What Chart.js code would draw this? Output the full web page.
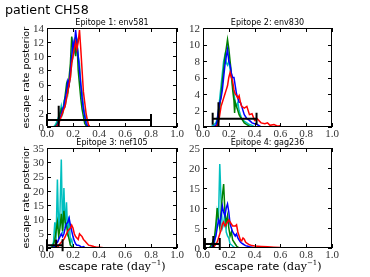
<!DOCTYPE html>
<html lang="en">
<head>
<meta charset="UTF-8">
<title>patient CH58</title>
<script src="https://cdn.jsdelivr.net/npm/chart.js"></script>
<style>
  body { margin: 0; width: 370px; height: 277px; background: #fff; position: relative; overflow: hidden; font-family: "DejaVu Sans", sans-serif; }
  canvas { position: absolute; left: 0; top: 0; }
  .lbl { position: absolute; white-space: nowrap; line-height: 1; color: #000; }
  .ttl { font-size: 8px; text-align: center; }
  .ylab { font-size: 9.5px; width: 120px; text-align: center; transform: rotate(-90deg); }
  .xlab { font-size: 11px; width: 130px; text-align: center; }
  .xlab .m { font-family: "DejaVu Serif", serif; }
  .xlab sup { font-size: 7px; vertical-align: 0; position: relative; top: -5px; }
</style>
</head>
<body>
<canvas id="c1" width="370" height="277"></canvas>
<canvas id="c2" width="370" height="277"></canvas>
<canvas id="c3" width="370" height="277"></canvas>
<canvas id="c4" width="370" height="277"></canvas>

<div class="lbl" style="left:5px; top:4px; font-size:12.7px;">patient CH58</div>
<div class="lbl ttl" style="left:47px; top:19px; width:130px;">Epitope 1: env581</div>
<div class="lbl ttl" style="left:203px; top:19px; width:129px;">Epitope 2: env830</div>
<div class="lbl ttl" style="left:47px; top:139px; width:130px;">Epitope 3: nef105</div>
<div class="lbl ttl" style="left:203px; top:139px; width:129px;">Epitope 4: gag236</div>
<div class="lbl ylab" style="left:-34px; top:73px;">escape rate posterior</div>
<div class="lbl ylab" style="left:-34px; top:193px;">escape rate posterior</div>
<div class="lbl xlab" style="left:47px; top:261px;">escape rate <span class="m">(day<sup>&minus;1</sup>)</span></div>
<div class="lbl xlab" style="left:203px; top:261px;">escape rate <span class="m">(day<sup>&minus;1</sup>)</span></div>

<script>
// posterior curves (escape rate per day -> density)
const xs1 = [0.05,0.06,0.07,0.08,0.09,0.10,0.11,0.12,0.13,0.14,0.15,0.16,0.17,0.18,0.19,0.20,0.21,0.22,0.23,0.24,0.25,0.26,0.27,0.28,0.29,0.30,0.31,0.32,0.33,0.34];
const red1   = [0,0,0,0.2,0.5,1,1.5,2,2.5,3,4,5,6,7,9,10,11,12,11,12,13.7,11,8,5,3.5,2,1,0.3,0,0];
const blue1  = [0,0,0.1,0.3,0.8,1.2,1.8,2.5,3,4,5,6.5,6,8,10,12,11,13.7,12,10,8,6,4,2.5,1.5,0.5,0.2,0,0,0];
const green1 = [0,0,0.2,0.5,1,1.8,2.5,2,3,4.5,6,5,7,9,12.8,11,12,10,12.5,8,6,4,2.5,1.5,0.5,0.2,0,0,0,0];
const cyan1  = [0,0.2,0.5,1,1.5,2,3,2,3.5,3,4,5,6,7,9,10,12,11,12,10,9,6,5,3,2,1,0.5,0.2,0,0];

const xs2 = [0.06,0.08,0.10,0.11,0.12,0.13,0.14,0.15,0.16,0.17,0.18,0.19,0.20,0.21,0.22,0.23,0.24,0.245,0.25,0.26,0.27,0.28,0.29,0.30,0.32,0.34,0.36,0.38,0.40,0.42,0.45,0.48,0.50,0.52,0.55,0.58,0.60];
const red2   = [0,0,0,0.2,0.5,1.5,2.5,3,3.5,4,4.5,5,6,6.6,6,5.5,4.5,4.2,4,3.8,3.5,3.8,3,2.5,2.3,2.5,1.5,1.6,0.8,1,0.5,0.4,0.5,0.2,0.3,0.1,0.2];
const blue2  = [0,0,0.2,0.8,2,3,3.5,4.5,6,7.5,8.5,9.4,8,7.5,6.5,6,6,5.5,5,4,3.5,3,3,2.5,1.5,1,0.8,0.5,0.4,0.3,0,null,null,null,null,null,null];
const green2 = [0,0,0.1,0.3,1,2.5,4,5.5,7,8.5,9.5,10.6,9.5,8,6.5,4.5,3.2,1.7,3,2.5,2,1.5,1.2,1,0.5,0.3,0.1,0,null,null,null,null,null,null,null,null,null];
const cyan2  = [0,0.2,0.5,1,2,3.5,5,6.5,8,8.7,7.8,7.5,8,7,6,5,4,3.5,3,2.5,3,2,1.5,1,0.7,0.5,0.3,0.2,0,null,null,null,null,null,null,null,null];

const xs3 = [0.03,0.04,0.05,0.06,0.07,0.08,0.09,0.10,0.11,0.12,0.13,0.14,0.15,0.16,0.17,0.18,0.19,0.20,0.21,0.22,0.23,0.24,0.25,0.26,0.27,0.28,0.29,0.30,0.32,0.34,0.36,0.38,0.40,0.42,0.45];
const red3   = [0,0,0,0,0,0.3,0.8,1.5,2,2.5,3,4,5,6,6.5,7,8,7,5,4,3.5,3,5,4.5,4,3,2.5,2,1,0.8,0.5,0.3,0.3,0.2,0];
const blue3  = [0,0,0.3,0.8,1.5,2,3,4,5,4,5,7,8.5,9,10.5,8,6,4,2.5,1.5,1,1,0.8,0.5,0.3,0.5,0.2,0,null,null,null,null,null,null,null];
const green3 = [0,0.3,1,3,6,9,4,7,12,6,13,9,8,5,3,1,0.5,0,null,null,null,null,null,null,null,null,null,null,null,null,null,null,null,null,null];
const cyan3  = [0,1,2,9,3,24,6,13,31,5,21,7,16,4,11,2,3,0.5,0,null,null,null,null,null,null,null,null,null,null,null,null,null,null,null,null];

const xs4 = [0.05,0.06,0.07,0.08,0.09,0.10,0.11,0.12,0.13,0.14,0.15,0.16,0.17,0.18,0.19,0.20,0.21,0.22,0.23,0.24,0.25,0.26,0.27,0.28,0.29,0.30,0.31,0.32,0.33,0.34,0.36,0.38,0.40,0.45,0.50,0.55,0.60];
const red4   = [0,0,0,0.2,0.5,1,1.5,2.5,3.5,4.5,6,6.5,5.5,6,6.5,7,6.5,6,5.5,5.5,5.5,5.8,4,3,2,1.8,2.5,2.2,1.5,1.2,0.8,0.6,0.5,0.4,0.3,0.2,0.1];
const blue4  = [0,0,0.3,1,2,3,5,7,6,8,10.5,9,8,10,11,9,6,5,4,3.5,3,3.5,2.5,2,1.5,1.2,1,0.8,0.6,0.5,0.3,0.2,0,null,null,null,null];
const green4 = [0,0.5,1,2,3,6,10,7,5,9,13,16,9,6,8,5,3,4,2,1.5,1,0.5,0.2,0,null,null,null,null,null,null,null,null,null,null,null,null,null];
const cyan4  = [0,0.3,1,2,1.5,4,9,7,21,12,5,6,9,4,3,2.5,1,0.8,0.5,0.2,0,null,null,null,null,null,null,null,null,null,null,null,null,null,null,null,null];

// error bars: point estimate (vertical mark) and horizontal range at y = 1
const errEst = [0.09, 0.12, 0.07, 0.08];
const errLo  = [0.0, 0.075, 0.0, 0.015];
const errHi  = [0.8, 0.415, 0.12, 0.13];
const errY = 1;
const errMarkTop = 3;

const yMaxes = [14, 12, 35, 25];
const ySteps = [2, 2, 5, 5];

const seriesColors = ['#ff0000', '#0000ff', '#008000', '#00bfbf'];

const panels = [
    { id: 'c1', xs: xs1, ys: [red1, blue1, green1, cyan1], box: [47, 28, 177, 127] },
    { id: 'c2', xs: xs2, ys: [red2, blue2, green2, cyan2], box: [203, 28, 332, 127] },
    { id: 'c3', xs: xs3, ys: [red3, blue3, green3, cyan3], box: [47, 148, 177, 248] },
    { id: 'c4', xs: xs4, ys: [red4, blue4, green4, cyan4], box: [203, 148, 332, 248] },
];

const YW = 28, XH = 14;

// error bars, frame on all four sides with inward ticks, and tick labels
const framePlugin = {
    id: 'frame',
    afterDatasetsDraw(chart, args, opts) {
        const { ctx, chartArea: a, scales: { x, y } } = chart;
        const i = opts.index;
        ctx.save();
        ctx.strokeStyle = '#000';
        ctx.lineWidth = 2;
        const yc = y.getPixelForValue(errY);
        const xl = x.getPixelForValue(errLo[i]);
        const xh = x.getPixelForValue(errHi[i]);
        ctx.beginPath();
        ctx.moveTo(xl, yc); ctx.lineTo(xh, yc);
        ctx.moveTo(xl, yc - 6); ctx.lineTo(xl, yc + 6);
        ctx.moveTo(xh, yc - 6); ctx.lineTo(xh, yc + 6);
        const xe = x.getPixelForValue(errEst[i]);
        ctx.moveTo(xe, y.getPixelForValue(0)); ctx.lineTo(xe, y.getPixelForValue(errMarkTop));
        ctx.stroke();

        ctx.lineWidth = 1;
        ctx.strokeRect(a.left + 0.5, a.top + 0.5, a.right - a.left - 1, a.bottom - a.top - 1);
        ctx.beginPath();
        x.ticks.forEach(t => {
            const px = Math.round(x.getPixelForValue(t.value)) + 0.5;
            ctx.moveTo(px, a.bottom); ctx.lineTo(px, a.bottom - 4);
            ctx.moveTo(px, a.top); ctx.lineTo(px, a.top + 4);
        });
        y.ticks.forEach(t => {
            const py = Math.round(y.getPixelForValue(t.value)) + 0.5;
            ctx.moveTo(a.left, py); ctx.lineTo(a.left + 4, py);
            ctx.moveTo(a.right, py); ctx.lineTo(a.right - 4, py);
        });
        ctx.stroke();

        ctx.fillStyle = '#333';
        ctx.font = '11px "Liberation Serif", serif';
        ctx.textBaseline = 'alphabetic';
        ctx.textAlign = 'center';
        x.ticks.forEach(t => {
            ctx.fillText(t.value.toFixed(1), x.getPixelForValue(t.value), a.bottom + 9.5);
        });
        ctx.textAlign = 'right';
        y.ticks.forEach(t => {
            ctx.fillText(String(t.value), a.left - 3, y.getPixelForValue(t.value) + 3.7);
        });
        ctx.restore();
    }
};

panels.forEach((p, i) => {
    const [l, t, r, b] = p.box;
    new Chart(document.getElementById(p.id), {
        type: 'line',
        data: {
            datasets: p.ys.map((ys, k) => ({
                data: p.xs.map((xv, j) => ({ x: xv, y: ys[j] })),
                borderColor: seriesColors[k],
                borderWidth: 1.5,
                pointRadius: 0,
                tension: 0,
                spanGaps: false
            }))
        },
        options: {
            responsive: false,
            animation: false,
            events: [],
            layout: { padding: { left: l - YW, right: 370 - r, top: t, bottom: 277 - b - XH } },
            plugins: { legend: { display: false }, tooltip: { enabled: false }, frame: { index: i } },
            scales: {
                x: {
                    type: 'linear', min: 0, max: 1,
                    grid: { display: false, drawTicks: false, tickLength: 0 },
                    border: { display: false },
                    ticks: { stepSize: 0.2, display: false, autoSkip: false },
                    afterFit: s => { s.height = XH; }
                },
                y: {
                    min: 0, max: yMaxes[i],
                    grid: { display: false, drawTicks: false, tickLength: 0 },
                    border: { display: false },
                    ticks: { stepSize: ySteps[i], display: false, autoSkip: false },
                    afterFit: s => { s.width = YW; }
                }
            }
        },
        plugins: [framePlugin]
    });
});
</script>
</body>
</html>
